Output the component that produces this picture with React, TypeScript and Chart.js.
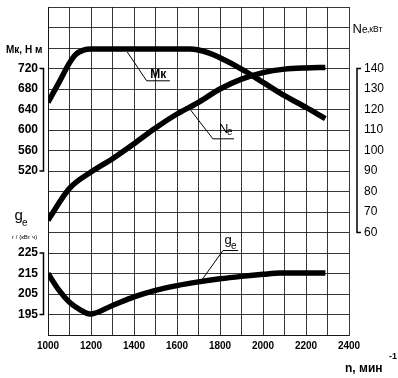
import React, { useEffect, useRef } from "react";
import { Chart, registerables } from "chart.js";

Chart.register(...registerables);

// ---- data ----
const rpmTicks = [1000, 1200, 1400, 1600, 1800, 2000, 2200, 2400];
const mkTicks = [520, 560, 600, 640, 680, 720];
const geTicks = [195, 205, 215, 225];
const neTicks = [60, 70, 80, 90, 100, 110, 120, 130, 140];

const mkRpm = [1000, 1050, 1100, 1130, 1165, 1200, 1300, 1400, 1500, 1600, 1660, 1700, 1750, 1800, 1900, 2000, 2100, 2200, 2290];
const mkValues = [654, 692, 731, 748, 756, 758, 758, 758, 758, 758, 758, 756, 750, 741, 719, 693, 667, 644, 622];

const neRpm = [1000, 1100, 1200, 1300, 1400, 1500, 1600, 1700, 1800, 1900, 2000, 2100, 2200, 2290];
const neValues = [66, 81.5, 89.5, 96, 103.3, 111, 117.8, 123.5, 130, 134.8, 138, 139.7, 140.3, 140.5];

const geRpm = [1000, 1050, 1100, 1150, 1195, 1300, 1400, 1500, 1600, 1700, 1800, 1900, 2000, 2080, 2200, 2290];
const geValues = [215, 207, 201, 197.3, 195.2, 199.4, 203.6, 206.8, 209.1, 210.9, 212.4, 213.6, 214.6, 215.2, 215.2, 215.2];

// annotation anchors (rpm, value) : start on curve, elbow, end of underline
const mkLeader = [[1369, 752], [1459, 696], [1567, 696]];
const neLeader = [[1660, 120.2], [1767, 105.7], [1865, 105.7]];
const geLeader = [[1707, 210.6], [1814, 226.2], [1884, 226.2]];

const X_MIN = 1000, X_MAX = 2400;
const MK_MIN = 200, MK_MAX = 840;
const GE_MIN = 185, GE_MAX = 345;
const NE_MIN = 10, NE_MAX = 170;

const FONT = "'Liberation Sans', Arial, sans-serif";
const GRID = "rgba(20,20,20,0.85)";

const zip = (xs: number[], ys: number[]) => xs.map((x, i) => ({ x, y: ys[i] }));

const noPad = (s: any) => {
  s.paddingTop = 0;
  s.paddingBottom = 0;
  s.paddingLeft = 0;
  s.paddingRight = 0;
};

const overlay = {
  id: "overlay",
  afterDraw(chart: any) {
    const ctx: CanvasRenderingContext2D = chart.ctx;
    const sx = chart.scales.x;
    const sMk = chart.scales.yMk;
    const sNe = chart.scales.yNe;
    const sGe = chart.scales.yGe;
    const area = chart.chartArea;
    ctx.save();
    ctx.strokeStyle = "#000";
    ctx.fillStyle = "#000";

    // brackets
    ctx.lineWidth = 1.5;
    const bracket = (x: number, y1: number, y2: number, dir: number) => {
      ctx.beginPath();
      ctx.moveTo(x + dir * 4, y1);
      ctx.lineTo(x, y1);
      ctx.lineTo(x, y2);
      ctx.lineTo(x + dir * 4, y2);
      ctx.stroke();
    };
    const lx = area.left - 4.5;
    bracket(lx, sMk.getPixelForValue(mkTicks[mkTicks.length - 1]), sMk.getPixelForValue(mkTicks[0]), -1);
    bracket(lx, sGe.getPixelForValue(geTicks[geTicks.length - 1]), sGe.getPixelForValue(geTicks[0]), -1);
    bracket(area.right + 8, sNe.getPixelForValue(neTicks[neTicks.length - 1]), sNe.getPixelForValue(neTicks[0]), 1);

    // leaders
    ctx.lineWidth = 1;
    const leader = (pts: number[][], sy: any) => {
      ctx.beginPath();
      pts.forEach(([r, v], i) => {
        const px = sx.getPixelForValue(r);
        const py = sy.getPixelForValue(v);
        if (i === 0) ctx.moveTo(px, py);
        else ctx.lineTo(px, py);
      });
      ctx.stroke();
    };
    leader(mkLeader, sMk);
    leader(neLeader, sNe);
    leader(geLeader, sGe);

    ctx.textBaseline = "alphabetic";
    ctx.textAlign = "left";
    // curve labels
    const mkE = mkLeader[1];
    const mkX = sx.getPixelForValue(mkE[0]);
    const mkY = sMk.getPixelForValue(mkE[1]);
    ctx.font = `bold 12px ${FONT}`;
    ctx.fillText("Мк", mkX + 3.5, mkY - 3);

    const neE = neLeader[1];
    const neX = sx.getPixelForValue(neE[0]);
    const neY = sNe.getPixelForValue(neE[1]);
    ctx.font = `13px ${FONT}`;
    ctx.fillText("N", neX + 6, neY - 6);
    ctx.font = `10px ${FONT}`;
    ctx.fillText("e", neX + 14, neY - 3.5);

    const geE = geLeader[1];
    const geX = sx.getPixelForValue(geE[0]);
    const geY = sGe.getPixelForValue(geE[1]);
    ctx.font = `13px ${FONT}`;
    ctx.fillText("g", geX + 1.5, geY - 7);
    ctx.font = `10px ${FONT}`;
    ctx.fillText("e", geX + 8, geY - 2);

    // axis titles
    ctx.font = `bold 10px ${FONT}`;
    ctx.fillText("Мк, Н м", 6, sMk.getPixelForValue(760) + 4.5);

    ctx.font = `13px ${FONT}`;
    const nY = sNe.getPixelForValue(160) + 5;
    ctx.fillText("N", 352.5, nY);
    ctx.font = `10px ${FONT}`;
    ctx.fillText("e", 362, nY);
    ctx.font = `8.5px ${FONT}`;
    ctx.fillText(",кВт", 367, nY - 1);

    ctx.font = `15px ${FONT}`;
    ctx.fillText("g", 14.5, 220);
    ctx.font = `10px ${FONT}`;
    ctx.fillText("e", 22, 225.5);
    ctx.font = `6px ${FONT}`;
    ctx.fillText("г / (кВт ч)", 12, 239);

    ctx.font = `bold 12px ${FONT}`;
    ctx.fillText("n, мин", 345, 372);
    ctx.font = `bold 9px ${FONT}`;
    ctx.fillText("-1", 389, 359);

    ctx.restore();
  },
};

export default function App() {
  const ref = useRef<HTMLCanvasElement | null>(null);
  useEffect(() => {
    document.body.style.margin = "0";
    const canvas = ref.current!;
    const lineStyle = {
      borderColor: "#000",
      borderWidth: 5.5,
      pointRadius: 0,
      fill: false,
      cubicInterpolationMode: "monotone" as const,
      borderCapStyle: "butt" as const,
      borderJoinStyle: "round" as const,
    };
    const chart = new Chart(canvas, {
      type: "line",
      data: {
        datasets: [
          { label: "Mk", data: zip(mkRpm, mkValues), yAxisID: "yMk", ...lineStyle },
          { label: "Ne", data: zip(neRpm, neValues), yAxisID: "yNe", ...lineStyle },
          { label: "ge", data: zip(geRpm, geValues), yAxisID: "yGe", ...lineStyle },
        ],
      },
      options: {
        responsive: false,
        animation: false,
        devicePixelRatio: 1,
        layout: { padding: { top: 7, left: 0, right: 0, bottom: 0 } },
        plugins: { legend: { display: false }, tooltip: { enabled: false }, title: { display: false } },
        scales: {
          x: {
            type: "linear",
            min: X_MIN,
            max: X_MAX,
            afterFit: (s: any) => { s.height = 43; noPad(s); },
            afterBuildTicks: (s: any) => {
              const t = [];
              for (let v = X_MIN; v <= X_MAX; v += 100) t.push({ value: v });
              s.ticks = t;
            },
            ticks: {
              autoSkip: false,
              maxRotation: 0,
              padding: 5,
              color: "#000",
              font: { family: FONT, size: 10, weight: "bold" },
              callback: (v: any) => (rpmTicks.includes(Number(v)) ? String(v) : ""),
            },
            grid: { color: GRID, lineWidth: 1, drawTicks: false },
            border: { display: true, color: GRID },
          },
          yMk: {
            type: "linear",
            position: "left",
            min: MK_MIN,
            max: MK_MAX,
            afterFit: (s: any) => { s.width = 48; noPad(s); },
            afterBuildTicks: (s: any) => {
              const t = [];
              for (let v = MK_MIN; v <= MK_MAX; v += 40) t.push({ value: v });
              s.ticks = t;
            },
            ticks: {
              autoSkip: false,
              padding: 10,
              color: "#000",
              font: { family: FONT, size: 12, weight: "bold" },
              callback: (v: any) => {
                const n = Number(v);
                if (mkTicks.includes(n)) return String(n);
                const g = GE_MIN + ((n - MK_MIN) * (GE_MAX - GE_MIN)) / (MK_MAX - MK_MIN);
                if (geTicks.includes(Math.round(g))) return String(Math.round(g));
                return "";
              },
            },
            grid: { color: GRID, lineWidth: 1, drawTicks: false },
            border: { display: true, color: GRID },
          },
          yGe: {
            type: "linear",
            display: false,
            min: GE_MIN,
            max: GE_MAX,
          },
          yNe: {
            type: "linear",
            position: "right",
            min: NE_MIN,
            max: NE_MAX,
            afterFit: (s: any) => { s.width = 49; noPad(s); },
            afterBuildTicks: (s: any) => {
              const t = [];
              for (let v = NE_MIN; v <= NE_MAX; v += 10) t.push({ value: v });
              s.ticks = t;
            },
            ticks: {
              autoSkip: false,
              padding: 15,
              color: "#000",
              font: { family: FONT, size: 12 },
              callback: (v: any) => (neTicks.includes(Number(v)) ? String(v) : ""),
            },
            grid: { display: false, drawTicks: false },
            border: { display: false },
          },
        },
      },
      plugins: [overlay],
    });
    return () => chart.destroy();
  }, []);
  return <canvas ref={ref} width={398} height={378} style={{ display: "block" }} />;
}
